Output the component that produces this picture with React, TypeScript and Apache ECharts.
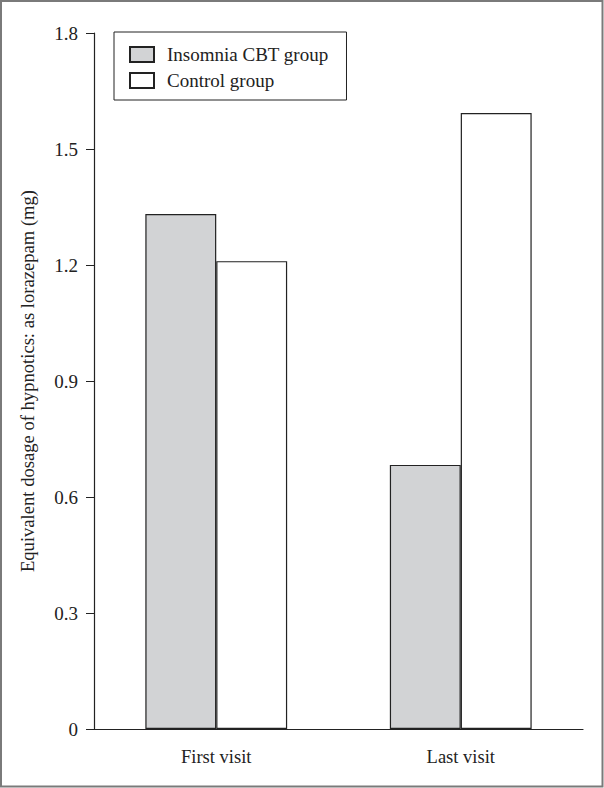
import React, { useEffect, useRef } from "react";
import * as echarts from "echarts";

const categories = ["First visit", "Last visit"];
const cbtValues = [1.332, 0.683];
const controlValues = [1.21, 1.593];
const seriesNames = ["Insomnia CBT group", "Control group"];
const yTicks = [0, 0.3, 0.6, 0.9, 1.2, 1.5, 1.8];

const FONT = "Liberation Serif";

export default function App() {
  const ref = useRef<HTMLDivElement>(null);
  useEffect(() => {
    if (!ref.current) return;
    const chart = echarts.init(ref.current, null, { renderer: "svg" });
    chart.setOption({
      animation: false,
      backgroundColor: "#fff",
      textStyle: { fontFamily: FONT, color: "#222" },
      graphic: [
        {
          type: "rect",
          shape: { x: 1, y: 1, width: 601.5, height: 785.5 },
          style: { fill: "none", stroke: "#7a7a7a", lineWidth: 2 },
          silent: true,
          z: 100,
        },
      ],
      legend: {
        orient: "vertical",
        left: 114,
        top: 32,
        padding: [13, 18, 10, 15],
        itemWidth: 24,
        itemHeight: 15,
        itemGap: 7,
        borderColor: "#222",
        borderWidth: 1,
        icon: "rect",
        textStyle: {
          fontFamily: FONT,
          fontSize: 19,
          color: "#222",
          padding: [0, 0, 0, 8],
        },
        data: seriesNames,
      },
      grid: { left: 94, right: 21, top: 33, bottom: 59, containLabel: false },
      xAxis: {
        type: "category",
        data: categories,
        axisTick: { show: false },
        axisLine: { lineStyle: { color: "#222", width: 1.2 } },
        axisLabel: { fontFamily: FONT, fontSize: 18.5, color: "#222", margin: 18 },
      },
      yAxis: {
        type: "value",
        min: 0,
        max: 1.8,
        interval: 0.3,
        name: "Equivalent dosage of hypnotics: as lorazepam (mg)",
        nameLocation: "middle",
        nameGap: 57,
        nameTextStyle: { fontFamily: FONT, fontSize: 18.6, color: "#222" },
        splitLine: { show: false },
        axisLine: { show: true, lineStyle: { color: "#222", width: 1.2 } },
        axisTick: { show: true, length: 8, lineStyle: { color: "#222" } },
        axisLabel: {
          fontFamily: FONT,
          fontSize: 19,
          color: "#222",
          margin: 16,
          formatter: (v: number) => {
            const t = yTicks.find((x) => Math.abs(x - v) < 1e-6);
            return t === undefined ? "" : t === 0 ? "0" : t.toFixed(1);
          },
        },
      },
      series: [
        {
          name: seriesNames[0],
          type: "bar",
          data: cbtValues,
          barWidth: "29%",
          barGap: "0%",
          itemStyle: { color: "#d2d3d5", borderColor: "#222", borderWidth: 1.2 },
        },
        {
          name: seriesNames[1],
          type: "bar",
          data: controlValues,
          barWidth: "29%",
          barGap: "0%",
          itemStyle: { color: "#ffffff", borderColor: "#222", borderWidth: 1.2 },
        },
      ],
    });
    return () => chart.dispose();
  }, []);
  return (
    <div
      ref={ref}
      style={{ position: "absolute", left: 0, top: 0, width: 604, height: 788 }}
    />
  );
}
